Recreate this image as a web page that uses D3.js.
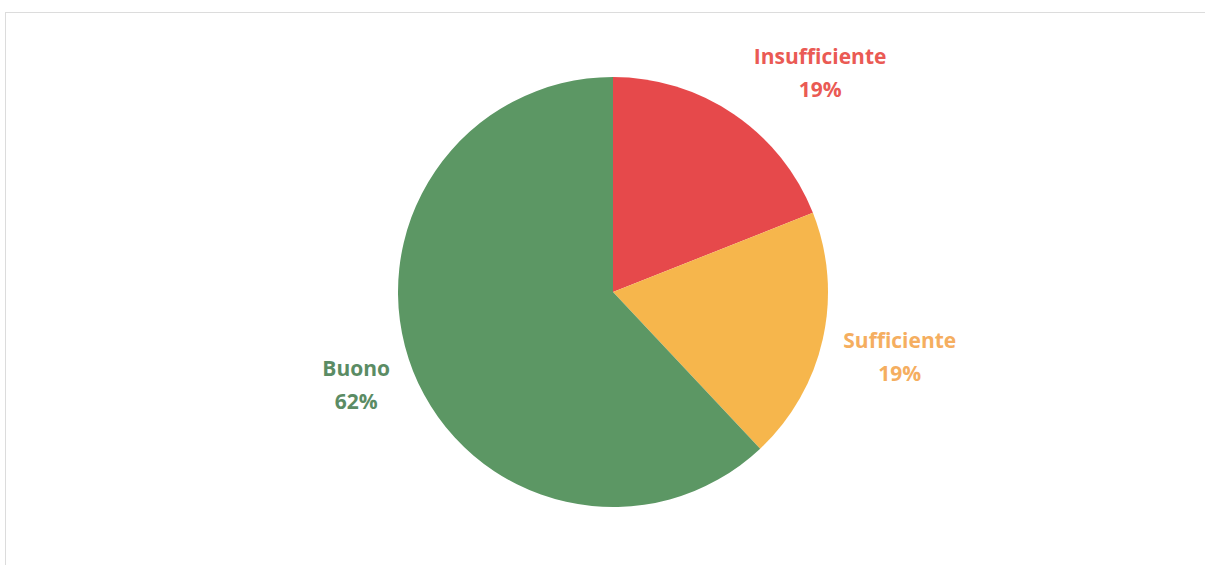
<!DOCTYPE html>
<html>
<head>
<meta charset="utf-8">
<script src="https://cdn.jsdelivr.net/npm/d3@7"></script>
<style>
  body { margin: 0; background: #fff; }
  svg { display: block; }
</style>
</head>
<body>
<div id="chart"></div>
<script>
// dati del grafico
var categories = ["Insufficiente", "Sufficiente", "Buono"];
var values = [19, 19, 62];
var sliceColors = ["#E6494B", "#F6B64C", "#5C9764"];
var labelColors = ["#EA5A54", "#F5AE60", "#5B8C64"];

var width = 1205;
var height = 565;
var cx = 613, cy = 292, r = 215;

var svg = d3.select("#chart")
    .append("svg")
    .attr("width", width)
    .attr("height", height);

// cornice leggera
svg.append("rect")
    .attr("x", 5.5)
    .attr("y", 12.5)
    .attr("width", width + 10)
    .attr("height", height + 10)
    .attr("fill", "none")
    .attr("stroke", "#dcdcdc")
    .attr("stroke-width", 1);

var pie = d3.pie().sort(null).value(function (d) { return d; });
var arcs = pie(values);

var arc = d3.arc().innerRadius(0).outerRadius(r);

var g = svg.append("g")
    .attr("transform", "translate(" + cx + "," + cy + ")");

g.selectAll("path")
    .data(arcs)
    .enter().append("path")
    .attr("d", arc)
    .attr("fill", function (d, i) { return sliceColors[i]; });

// etichette fuori dalla torta (offset come in Excel)
var labelArc = d3.arc().innerRadius(r * 1.3).outerRadius(r * 1.3);
var nudge = [[50, 3], [14, -5], [3, -19]];

var lab = g.selectAll(".lbl")
    .data(arcs)
    .enter().append("text")
    .attr("class", "lbl")
    .attr("text-anchor", "middle")
    .attr("font-family", "'Open Sans', Lato, sans-serif")
    .attr("font-weight", "bold")
    .attr("font-size", 21)
    .attr("fill", function (d, i) { return labelColors[i]; })
    .attr("transform", function (d, i) {
        var c = labelArc.centroid(d);
        return "translate(" + (c[0] + nudge[i][0]) + "," + (c[1] + nudge[i][1]) + ")";
    });

lab.append("tspan")
    .attr("x", 0)
    .attr("dy", 0)
    .text(function (d, i) { return categories[i]; });

lab.append("tspan")
    .attr("x", 0)
    .attr("dy", 33)
    .text(function (d) { return d.data + "%"; });
</script>
</body>
</html>
